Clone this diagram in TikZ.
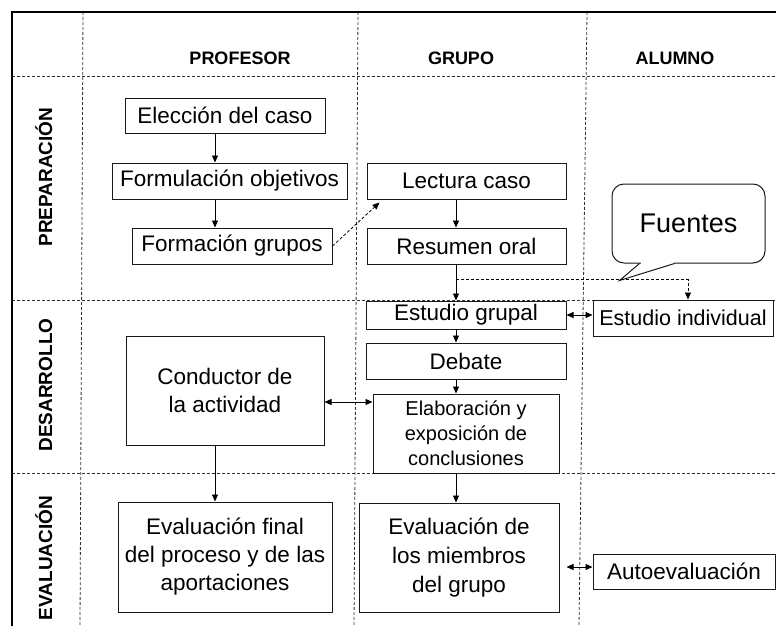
\documentclass[tikz,border=0pt]{standalone}
\usepackage{fontspec}
\setmainfont{Liberation Sans}
\usetikzlibrary{arrows.meta,calc}

\tikzset{
	caja/.style={draw=black!90, line width=1pt, fill=white, inner sep=2pt, align=center,
		font=\fontsize{22.5}{28}\selectfont},
	carril/.style={draw=black!80, line width=0.8pt, dash pattern=on 3pt off 2pt},
	flecha/.style={draw=black, line width=0.9pt, -{Triangle[length=7pt,width=6pt]}},
	dflecha/.style={draw=black, line width=0.9pt, {Triangle[length=7pt,width=6pt]}-{Triangle[length=7pt,width=6pt]}},
	trazo/.style={flecha, line width=0.8pt, dash pattern=on 3pt off 2pt},
	titulo/.style={font=\fontsize{18}{20}\selectfont\bfseries, anchor=base, inner sep=0pt},
}

\begin{document}
\begin{tikzpicture}[x=1pt,y=-1pt]
		\useasboundingbox (0,0) rectangle (776,626);
		% carriles
		\draw[carril] (12,76) -- (776,76);
		\draw[carril] (12,300) -- (776,300);
		\draw[carril] (12,473) -- (776,473);
		\draw[carril] (83,12) -- (80,626);
		\draw[carril] (358,12) -- (354,626);
		\draw[carril] (587,12) -- (579,626);
		\draw[line width=1.8pt] (12,626) -- (12,12) -- (776,12);
		\node[titulo] (profesor) at (240,64) {PROFESOR};
		\node[titulo] (grupo) at (461,64) {GRUPO};
		\node[titulo] (alumno) at (675,64) {ALUMNO};
		\node[titulo, rotate=90, font=\fontsize{19}{21}\selectfont\bfseries] (preparacion) at (52,177) {PREPARACIÓN};
		\node[titulo, rotate=90, font=\fontsize{19}{21}\selectfont\bfseries] (desarrollo) at (52,385) {DESARROLLO};
		\node[titulo, rotate=90, font=\fontsize{19}{21}\selectfont\bfseries] (evaluacion) at (52,558) {EVALUACIÓN};
		\coordinate (pcol) at (215,0);
		\coordinate (gcol) at (456,0);
		% cajas
		\node[caja, minimum width=200pt, minimum height=35pt] (eleccion) at (225,115.5) {Elección del caso};
		\node[caja, minimum width=235pt, minimum height=36pt] (objetivos) at (229.5,181) {Formulación objetivos};
		\node[caja, minimum width=200pt, minimum height=36pt] (grupos) at (232,246) {Formación grupos};
		\node[caja, minimum width=199pt, minimum height=36pt] (lectura) at (466.5,181) {Lectura caso};
		\node[caja, minimum width=199pt, minimum height=36pt] (resumen) at (466.5,246) {Resumen oral};
		\node[caja, minimum width=200pt, minimum height=28pt, inner sep=1pt] (egrupal) at (466,315) {Estudio grupal};
		\node[caja, minimum width=200pt, minimum height=36pt] (debate) at (466,361) {Debate};
		\node[caja, minimum width=186pt, minimum height=79pt, font=\fontsize{20}{25}\selectfont] (elabora) at (466,433.5) {Elaboración y\\exposición de\\conclusiones};
		\node[caja, minimum width=180pt, minimum height=36pt, font=\fontsize{21.5}{26}\selectfont] (eindiv) at (683,318) {Estudio individual};
		\node[caja, minimum width=198pt, minimum height=109pt] (conductor) at (225,390.5) {Conductor de\\la actividad};
		\node[caja, minimum width=214pt, minimum height=110pt] (evfinal) at (225,557) {Evaluación final\\del proceso y de las\\aportaciones};
		\node[caja, minimum width=200pt, minimum height=109pt, font=\fontsize{22.5}{29}\selectfont] (evmiembros) at (459,557.5) {Evaluación de\\los miembros\\del grupo};
		\node[caja, minimum width=182pt, minimum height=35pt] (autoeval) at (684,571.5) {Autoevaluación};
		\node[caja, rounded corners=12pt, minimum width=153pt, minimum height=79pt, font=\fontsize{27}{32}\selectfont] (fuentes) at (688.5,223.5) {Fuentes};
		\fill[white] ($(fuentes.south west)+(29,-1.5)$) rectangle ($(fuentes.south west)+(62,1.5)$);
		\draw[draw=black!90, line width=1pt] ($(fuentes.south west)+(28,0)$) -- ($(fuentes.south west)+(8,17)$) -- ($(fuentes.south west)+(63,0)$);
		% flechas
		\draw[flecha] (eleccion.south -| pcol) -- (objetivos.north -| pcol);
		\draw[flecha] (objetivos.south -| pcol) -- (grupos.north -| pcol);
		\draw[flecha] (conductor.south -| pcol) -- (evfinal.north -| pcol);
		\draw[flecha] (lectura.south -| gcol) -- (resumen.north -| gcol);
		\draw[flecha] (resumen.south -| gcol) -- (egrupal.north -| gcol);
		\draw[flecha] (egrupal.south -| gcol) -- (debate.north -| gcol);
		\draw[flecha] (debate.south -| gcol) -- (elabora.north -| gcol);
		\draw[flecha] (elabora.south -| gcol) -- (evmiembros.north -| gcol);
		\draw[trazo] (grupos.east) -- ($(lectura.south west)+(13,3)$);
		\coordinate (reparto) at ($(resumen.south -| gcol)+(0,15)$);
		\draw[trazo] (reparto) -| ($(eindiv.north)+(5,0)$);
		\draw[dflecha] (egrupal.east) -- (egrupal.east -| eindiv.west);
		\coordinate (coflecha) at ($(conductor.east)+(0,11.5)$);
		\draw[dflecha] (coflecha) -- (coflecha -| elabora.west);
		\coordinate (evflecha) at ($(autoeval.west)+(0,-4.5)$);
		\draw[dflecha, shorten <=7pt] (evflecha -| evmiembros.east) -- (evflecha);
\end{tikzpicture}
\end{document}
